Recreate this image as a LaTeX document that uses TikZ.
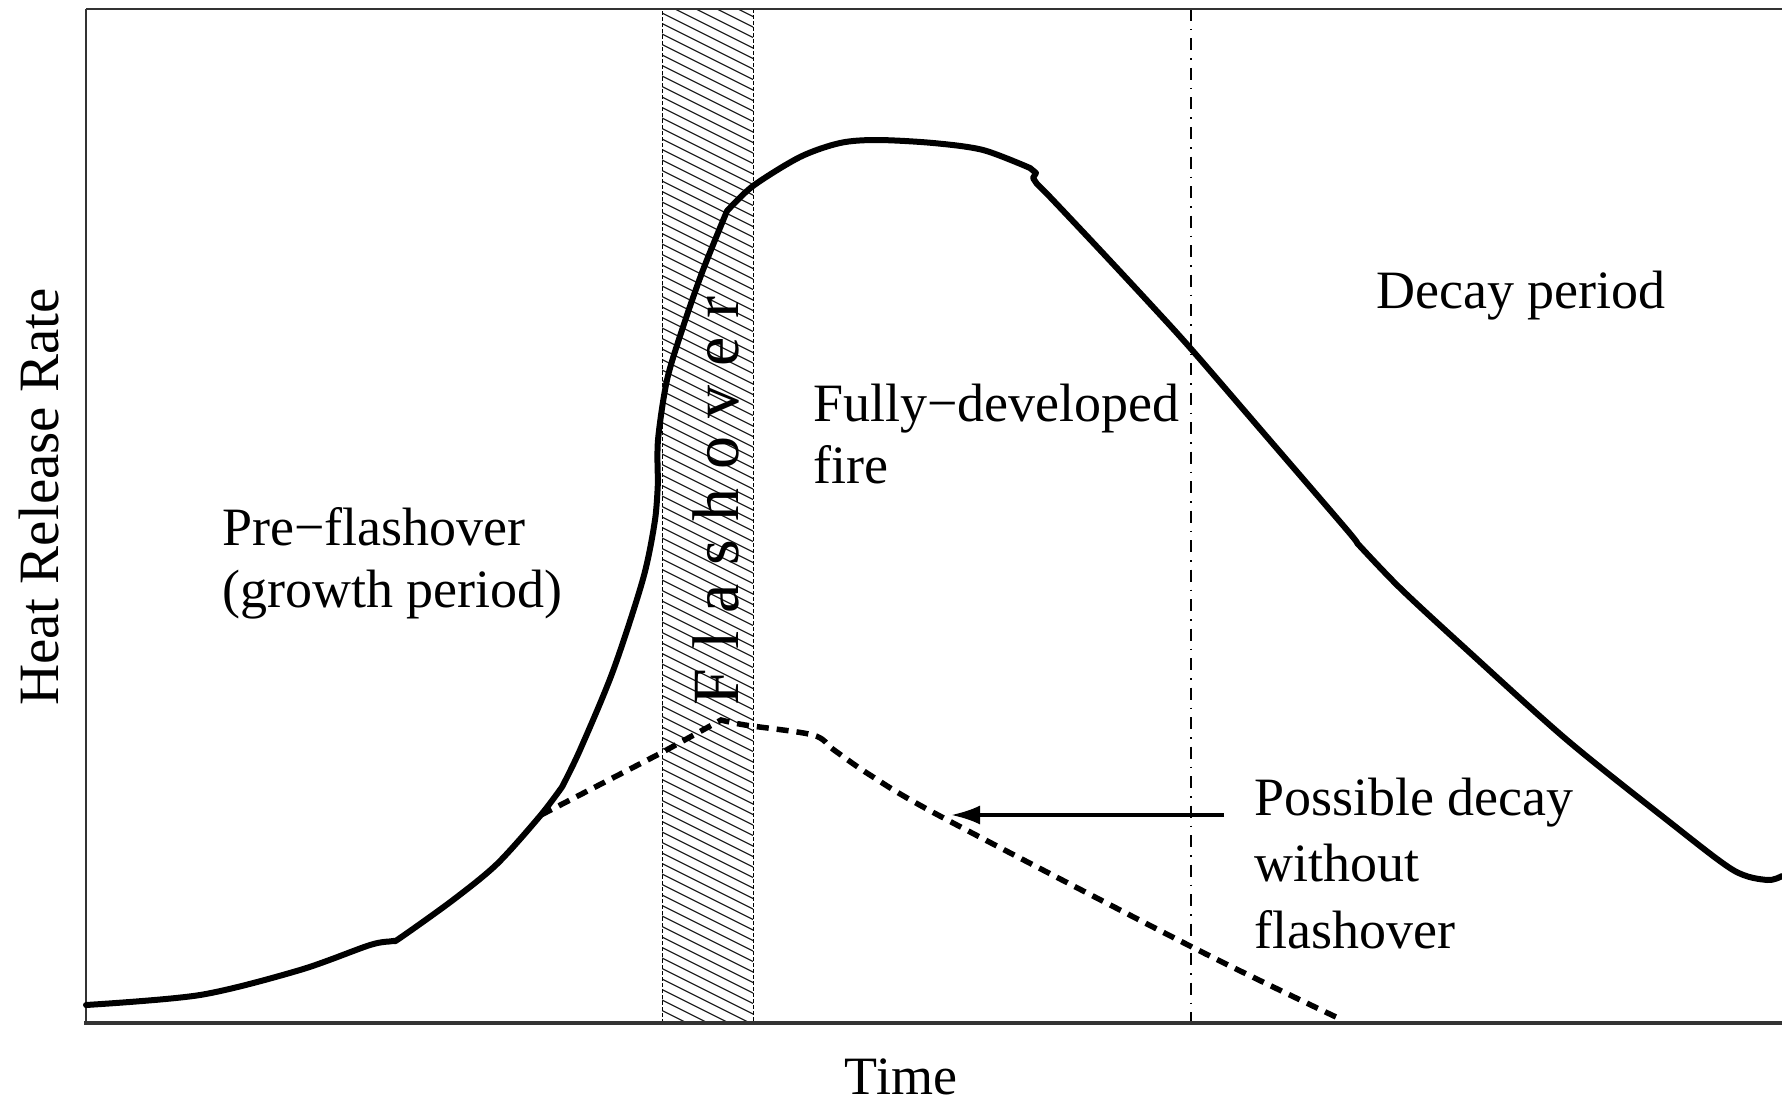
\documentclass[tikz,border=0pt]{standalone}
\usepackage{fontspec}
\setmainfont{Liberation Serif}
\usetikzlibrary{arrows.meta}
\newcommand\flsp{\kern 18.5pt}
\begin{document}
\begin{tikzpicture}[x=1pt,y=-1pt,
  curve/.style={line width=6pt, line join=round, line cap=round},
  dcurve/.style={line width=5.5pt, dash pattern=on 12pt off 8pt},
  lbl/.style={font=\fontsize{54}{62}\selectfont, inner sep=0pt, anchor=base west, align=left},
  frame/.style={black!80},
  hatch/.style={line width=1.3pt, black!85},
  bandedge/.style={line width=1pt, dash pattern=on 4pt off 2pt},
  dashdot/.style={line width=1.3pt, dash pattern=on 12pt off 8pt on 1.5pt off 8pt},
]
\useasboundingbox (0,0) rectangle (1782,1105);
% flashover band
\begin{scope}
\clip (662,9) rectangle (753,1023);
\foreach \k in {0,...,110} { \draw[hatch] (662,{-50+\k*10.5}) -- ++(91,45.5); }
\end{scope}
\draw[bandedge] (662,1023) -- (662,9) (753,9) -- (753,1023);
% dash-dot separator
\draw[dashdot] (1191,9) -- (1191,1023);
% frame
\draw[frame, line width=2pt] (86,9) -- (1782,9);
\draw[frame, line width=1.8pt] (86,9) -- (86,1023);
\draw[frame, line width=4pt] (84,1023) -- (1782,1023);
% main curve
\draw[curve] plot[smooth,tension=0.5] coordinates {(86,1005) (200,995) (300,970) (370,945) (393,941) (400,938) (453,900) (497,864) (540,816) (562,787)}
 -- plot[smooth,tension=0.5] coordinates {(562,787) (580,750) (613,671) (643,579) (655,520) (658,480)}
 -- plot[smooth,tension=0.5] coordinates {(658,480) (658,440) (667,380) (683,327) (703,270) (727,211)}
 -- plot[smooth,tension=0.5] coordinates {(727,211) (753,186) (800,157) (840,143) (877,140) (933,143) (983,150) (1030,168)}
 -- (1036,173) -- (1033,178) -- (1037,184)
 -- plot[smooth,tension=0.5] coordinates {(1037,184) (1050,197) (1100,250) (1153,307) (1192,350) (1267,437) (1347,530) (1357,543)}
 -- plot[smooth,tension=0.5] coordinates {(1357,543) (1400,588) (1467,650) (1567,740) (1667,820) (1733,870) (1767,880) (1782,876)};
% possible decay curve
\draw[dcurve] (541,815) -- (661,753) -- (721,720)
 -- plot[smooth,tension=0.5] coordinates {(721,720) (745,725) (813,735) (834,750) (870,775) (938,815) (1192,947) (1336,1017)};
% labels (anchor = baseline of last line)
\node[lbl] (pre) at (222,607) {Pre−flashover\\(growth period)};
\node[lbl] (fully) at (813,483) {Fully−developed\\fire};
\node[lbl] (decay) at (1376,308) {Decay period};
\node[lbl, font=\fontsize{54}{66.5}\selectfont] (possible) at (1254,948) {Possible decay\\without\\flashover};
\node[font=\fontsize{54}{62}\selectfont, inner sep=0pt, anchor=base] (time) at (901,1094) {Time};
\node[font=\fontsize{57}{62}\selectfont, inner sep=0pt, anchor=base, rotate=90] (hrr) at (58,497) {Heat Release Rate};
\node[font=\fontsize{66}{66}\selectfont, inner sep=0pt, anchor=base, rotate=90] (flash) at (738,501) {F\flsp l\flsp a\flsp s\flsp h\flsp o\flsp v\flsp e\flsp r};
% arrow
\coordinate (atail) at (1224,815);
\coordinate (ahead) at (951,815);
\draw[line width=3.5pt, -{Latex[length=29pt,width=19pt]}] (atail) -- (ahead);
\end{tikzpicture}
\end{document}
